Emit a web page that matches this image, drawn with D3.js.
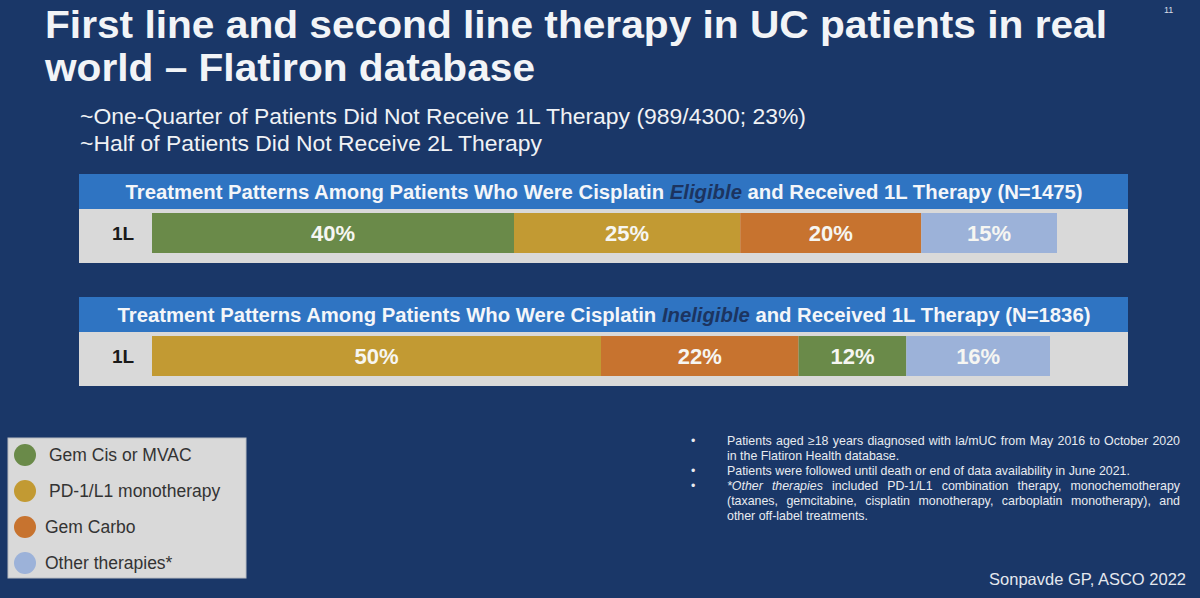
<!DOCTYPE html>
<html>
<head>
<meta charset="utf-8">
<script src="https://cdn.jsdelivr.net/npm/d3@7"></script>
<style>
  html, body { margin: 0; padding: 0; background: #1a3768; }
  svg { display: block; font-family: "Liberation Sans", Arial, sans-serif; }
</style>
</head>
<body>
<div id="slide"></div>
<script>
// ---- data ----
const therapies = ["Gem Cis or MVAC", "PD-1/L1 monotherapy", "Gem Carbo", "Other therapies*"];
const therapyColors = ["#6a8a49", "#c29a33", "#c7732f", "#9cb2d9"];

const eligibleOrder = ["Gem Cis or MVAC", "PD-1/L1 monotherapy", "Gem Carbo", "Other therapies*"];
const eligibleValues = [40, 25, 20, 15];

const ineligibleOrder = ["PD-1/L1 monotherapy", "Gem Carbo", "Gem Cis or MVAC", "Other therapies*"];
const ineligibleValues = [50, 22, 12, 16];

const rowLabels = ["1L"];

const titleLines = ["First line and second line therapy in UC patients in real", "world \u2013 Flatiron database"];
const subLines = ["~One-Quarter of Patients Did Not Receive 1L Therapy (989/4300; 23%)", "~Half of Patients Did Not Receive 2L Therapy"];

const W = 1200, H = 598;

const svg = d3.select("#slide").append("svg")
    .attr("width", W)
    .attr("height", H);

svg.append("rect").attr("width", W).attr("height", H).attr("fill", "#1a3768");

// title
svg.append("text")
    .attr("x", 45).attr("y", 38)
    .attr("font-size", 38).attr("font-weight", "bold")
    .attr("fill", "#f2f4f7")
    .attr("textLength", 1062).attr("lengthAdjust", "spacingAndGlyphs")
    .text(titleLines[0]);
svg.append("text")
    .attr("x", 45).attr("y", 81)
    .attr("font-size", 38).attr("font-weight", "bold")
    .attr("fill", "#f2f4f7")
    .attr("textLength", 490).attr("lengthAdjust", "spacingAndGlyphs")
    .text(titleLines[1]);

// page number
svg.append("text")
    .attr("x", 1164).attr("y", 13)
    .attr("font-size", 9).attr("fill", "#d8dde6")
    .text("11");

// sub points
svg.append("text")
    .attr("x", 80).attr("y", 124)
    .attr("font-size", 22).attr("fill", "#f0f2f5")
    .attr("textLength", 726).attr("lengthAdjust", "spacingAndGlyphs")
    .text(subLines[0]);
svg.append("text")
    .attr("x", 80).attr("y", 151)
    .attr("font-size", 22).attr("fill", "#f0f2f5")
    .attr("textLength", 462).attr("lengthAdjust", "spacingAndGlyphs")
    .text(subLines[1]);

// colour scale
const color = d3.scaleOrdinal().domain(therapies).range(therapyColors);

class PatternBar {

    constructor(top, barEnd, before, italicWord, after, order, values) {
        this.top = top;
        this.barEnd = barEnd;
        this.before = before;
        this.italicWord = italicWord;
        this.after = after;
        this.order = order;
        this.values = values;
        this.draw();
    }

    draw() {
        let vis = this;
        let g = svg.append("g").attr("transform", `translate(0, ${vis.top})`);

        vis.x = d3.scaleLinear().domain([0, 100]).range([152, vis.barEnd]);

        // header strip
        g.append("rect")
            .attr("x", 79).attr("y", 0)
            .attr("width", 1049).attr("height", 35)
            .attr("fill", "#2f74c2");

        let head = g.append("text")
            .attr("x", 604).attr("y", 25)
            .attr("text-anchor", "middle")
            .attr("font-size", 20.3).attr("font-weight", "bold")
            .attr("fill", "#f4f6f9");
        head.append("tspan").text(vis.before);
        head.append("tspan")
            .attr("font-style", "italic")
            .attr("fill", "#1c3460")
            .text(vis.italicWord);
        head.append("tspan").text(vis.after);

        // gray row
        g.append("rect")
            .attr("x", 79).attr("y", 35)
            .attr("width", 1049).attr("height", 54)
            .attr("fill", "#d9d9d9");

        let y = d3.scaleBand().domain(rowLabels).range([39, 79]).padding(0);

        g.append("text")
            .attr("x", 123).attr("y", y("1L") + y.bandwidth() / 2 + 7)
            .attr("text-anchor", "middle")
            .attr("font-size", 19).attr("font-weight", "bold")
            .attr("fill", "#1a1a1a")
            .text(rowLabels[0]);

        // stacked segments
        let cum = 0;
        let segs = vis.order.map((name, i) => {
            let s = {name: name, v: vis.values[i], x0: cum, x1: cum + vis.values[i]};
            cum += vis.values[i];
            return s;
        });

        g.selectAll("rect.seg")
            .data(segs)
            .enter()
            .append("rect")
            .attr("class", "seg")
            .attr("x", d => vis.x(d.x0))
            .attr("y", y("1L"))
            .attr("width", d => vis.x(d.x1) - vis.x(d.x0))
            .attr("height", y.bandwidth())
            .attr("fill", d => color(d.name));

        g.selectAll("text.pct")
            .data(segs)
            .enter()
            .append("text")
            .attr("class", "pct")
            .attr("x", d => (vis.x(d.x0) + vis.x(d.x1)) / 2)
            .attr("y", y("1L") + y.bandwidth() / 2 + 8)
            .attr("text-anchor", "middle")
            .attr("font-size", 22).attr("font-weight", "bold")
            .attr("fill", "#f6f6f2")
            .text(d => d.v + "%");
    }
}

new PatternBar(174, 1057, "Treatment Patterns Among Patients Who Were Cisplatin ", "Eligible", " and Received 1L Therapy (N=1475)", eligibleOrder, eligibleValues);
new PatternBar(297, 1050, "Treatment Patterns Among Patients Who Were Cisplatin ", "Ineligible", " and Received 1L Therapy (N=1836)", ineligibleOrder, ineligibleValues);

// legend
let legend = svg.append("g").attr("class", "legend");
legend.append("rect")
    .attr("x", 8).attr("y", 438)
    .attr("width", 238).attr("height", 140)
    .attr("fill", "#d9d9d9")
    .attr("stroke", "#b8bcc2");

let ly = d3.scalePoint().domain(therapies).range([455, 563]);
let textX = [49, 49, 45, 45];

legend.selectAll("circle")
    .data(therapies)
    .enter()
    .append("circle")
    .attr("cx", 25)
    .attr("cy", d => ly(d))
    .attr("r", 11)
    .attr("fill", d => color(d));

legend.selectAll("text")
    .data(therapies)
    .enter()
    .append("text")
    .attr("x", (d, i) => textX[i])
    .attr("y", d => ly(d) + 6)
    .attr("font-size", 17.5)
    .attr("fill", "#333")
    .text(d => d);

// footnotes
const notes = [
    {bullet: true,  parts: [["Patients aged \u226518 years diagnosed with la/mUC from May 2016 to October 2020", false]], justify: true},
    {bullet: false, parts: [["in the Flatiron Health database.", false]], justify: false},
    {bullet: true,  parts: [["Patients were followed until death or end of data availability in June 2021.", false]], justify: false},
    {bullet: true,  parts: [["*Other therapies", true], [" included PD-1/L1 combination therapy, monochemotherapy", false]], justify: true},
    {bullet: false, parts: [["(taxanes, gemcitabine, cisplatin monotherapy, carboplatin monotherapy), and", false]], justify: true},
    {bullet: false, parts: [["other off-label treatments.", false]], justify: false}
];

let foot = svg.append("g").attr("font-size", 12.4).attr("fill", "#e8ebf0");
notes.forEach((n, i) => {
    let yy = 445 + i * 15;
    if (n.bullet) {
        foot.append("text").attr("x", 691).attr("y", yy).text("\u2022");
    }
    let t = foot.append("text").attr("x", 727).attr("y", yy);
    n.parts.forEach(p => {
        t.append("tspan").attr("font-style", p[1] ? "italic" : null).text(p[0]);
    });
    if (n.justify) {
        let w = t.node().getComputedTextLength();
        let full = n.parts.map(p => p[0]).join("");
        let spaces = (full.match(/ /g) || []).length;
        let ws = Math.max(0, (1180 - 727 - w) / spaces);
        t.style("word-spacing", ws + "px");
    }
});

// credit
svg.append("text")
    .attr("x", 1186).attr("y", 585)
    .attr("text-anchor", "end")
    .attr("font-size", 16.5)
    .attr("fill", "#e4e8ee")
    .text("Sonpavde GP, ASCO 2022");
</script>
</body>
</html>
